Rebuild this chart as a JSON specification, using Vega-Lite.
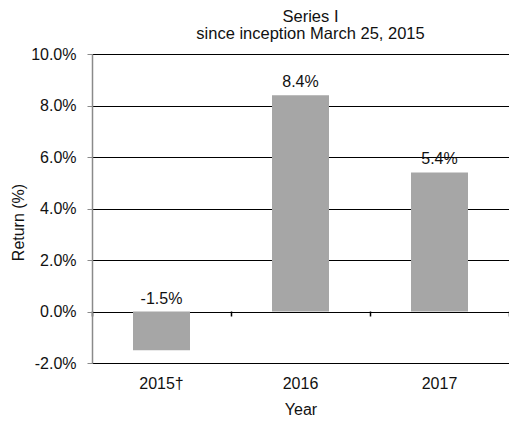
{
  "$schema": "https://vega.github.io/schema/vega-lite/v6.json",
  "width": 417,
  "height": 309,
  "autosize": {"type": "none"},
  "padding": {"left": 92, "top": 54, "right": 0, "bottom": 60},
  "background": "white",
  "config": {
    "font": "Liberation Sans",
    "view": {"stroke": null},
    "text": {"font": "Liberation Sans"}
  },
  "title": {
    "text": ["Series I", "since inception March 25, 2015"],
    "anchor": "middle",
    "frame": "group",
    "dx": 10,
    "offset": 4,
    "fontSize": 16.5,
    "fontWeight": "normal",
    "lineHeight": 17,
    "color": "#111111",
    "font": "Liberation Sans"
  },
  "data": {
    "values": [
      {"year": "2015†", "ret": -0.015},
      {"year": "2016", "ret": 0.084},
      {"year": "2017", "ret": 0.054}
    ]
  },
  "transform": [
    {"calculate": "max(datum.ret, 0)", "as": "labelPos"},
    {"calculate": "replace(format(datum.ret, '.1%'), '\u2212', '-')", "as": "label"}
  ],
  "layer": [
    {
      "mark": {"type": "bar", "width": {"band": 0.41}, "color": "#a6a6a6"},
      "encoding": {
        "x": {
          "field": "year",
          "type": "nominal",
          "sort": null,
          "scale": {"paddingInner": 0, "paddingOuter": 0},
          "axis": {
            "title": "Year",
            "titleFont": "Liberation Sans",
            "titleFontSize": 16,
            "titleFontWeight": "normal",
            "titleColor": "#111111",
            "titlePadding": 10,
            "labelAngle": 0,
            "labelFont": "Liberation Sans",
            "labelFontSize": 16,
            "labelColor": "#111111",
            "labelPadding": 12,
            "domain": false,
            "ticks": false
          }
        },
        "y": {
          "field": "ret",
          "type": "quantitative",
          "scale": {"domain": [-0.02, 0.1], "nice": false, "zero": false},
          "axis": {
            "values": [-0.02, 0, 0.02, 0.04, 0.06, 0.08, 0.1],
            "labelExpr": "replace(format(datum.value, '.1%'), '\u2212', '-')",
            "title": "Return (%)",
            "titleFont": "Liberation Sans",
            "titleFontSize": 16,
            "titleFontWeight": "normal",
            "titleColor": "#111111",
            "titleX": -74,
            "titleY": 168,
            "titleAngle": 270,
            "titleBaseline": "middle",
            "labelFont": "Liberation Sans",
            "labelFontSize": 16,
            "labelColor": "#111111",
            "labelPadding": 11,
            "grid": true,
            "gridColor": "#000000",
            "gridOpacity": 1,
            "gridWidth": 1,
            "domainColor": "#8a8a8a",
            "domainWidth": 1.5,
            "tickColor": "#8a8a8a",
            "tickSize": 5,
            "tickWidth": 1
          }
        }
      }
    },
    {
      "mark": {"type": "rule", "color": "#000000", "strokeWidth": 1},
      "encoding": {
        "y": {"datum": 0, "type": "quantitative"},
        "x": {
          "field": "year",
          "type": "nominal",
          "sort": null,
          "axis": {
            "orient": "bottom",
            "offset": -52,
            "labels": false,
            "title": null,
            "domain": false,
            "ticks": true,
            "tickColor": "#000000",
            "tickSize": 5,
            "tickWidth": 1.5,
            "tickBand": "extent",
            "bandPosition": 0
          }
        }
      }
    },
    {
      "mark": {"type": "text", "baseline": "bottom", "dy": -5, "fontSize": 16, "color": "#111111", "font": "Liberation Sans"},
      "encoding": {
        "x": {"field": "year", "type": "nominal", "sort": null, "axis": null},
        "y": {"field": "labelPos", "type": "quantitative"},
        "text": {"field": "label", "type": "nominal"}
      }
    }
  ],
  "resolve": {"axis": {"x": "independent"}}
}
